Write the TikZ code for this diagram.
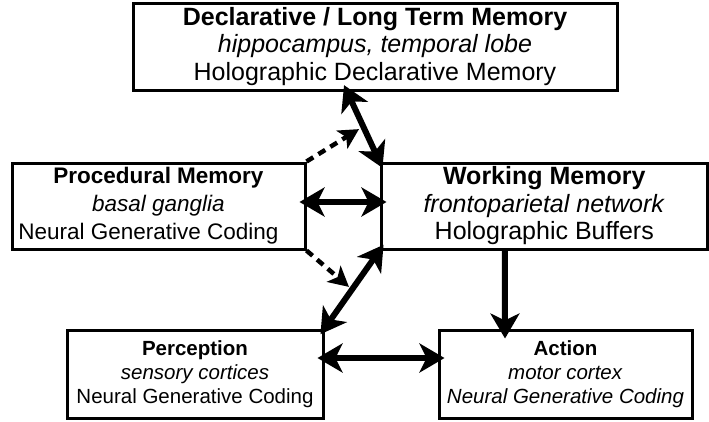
\documentclass[tikz,border=0pt]{standalone}
\usepackage{fontspec}
\setmainfont{Liberation Sans}
\usetikzlibrary{arrows.meta,calc}

\tikzset{
  box/.style={draw,line width=3pt,align=center,inner sep=0pt},
  bigtext/.style={font=\fontsize{25}{27.5}\selectfont},
  midtext/.style={font=\fontsize{22.5}{28}\selectfont},
  smalltext/.style={font=\fontsize{20.5}{24}\selectfont},
  link/.style={line width=6pt,{Stealth[length=25pt,width=29pt,inset=7pt]}-{Stealth[length=25pt,width=29pt,inset=7pt]},shorten <=-7pt,shorten >=-7pt},
  onelink/.style={line width=6pt,-{Stealth[length=25pt,width=29pt,inset=7pt]},shorten >=-10pt},
  hint/.style={line width=4.5pt,dash pattern=on 8pt off 6pt,-{Stealth[length=20pt,width=21pt,inset=5pt]},shorten >=5pt}
}

\begin{document}
\begin{tikzpicture}[x=1pt,y=-1pt]
  \useasboundingbox (0,0) rectangle (709,421);

  % memory modules
  \node[box,bigtext,minimum width=484pt,minimum height=87pt] (dec) at (375,46.5)
    {\textbf{Declarative / Long Term Memory}\\ \textit{hippocampus, temporal lobe}\\ Holographic Declarative Memory};
  \node[box,midtext,minimum width=293pt,minimum height=86pt] (proc) at (158.5,206)
    {\textbf{Procedural Memory}\\ \textit{basal ganglia}\\ Neural Generative Coding\hspace*{20pt}};
  \node[box,bigtext,minimum width=326.5pt,minimum height=86pt] (wm) at (544.25,206)
    {\textbf{Working Memory}\\ \textit{frontoparietal network}\\ Holographic Buffers};
  \node[box,smalltext,minimum width=256pt,minimum height=88pt] (perc) at (195,374)
    {\textbf{Perception}\\ \textit{sensory cortices}\\ Neural Generative Coding};
  \node[box,smalltext,minimum width=253pt,minimum height=88pt] (act) at (565.5,374)
    {\textbf{Action}\\ \textit{motor cortex}\\ \textit{Neural Generative Coding}};

  \coordinate (decin) at ([xshift=-28pt]dec.south);

  % connections
  \draw[link] (decin) -- (wm.north west);
  \draw[link] ([yshift=4pt]proc.east) -- ([yshift=4pt]wm.west);
  \draw[link] (wm.south west) -- (perc.north east);
  \draw[link] ([yshift=16pt]perc.east) -- ([yshift=16pt]act.west);
  \draw[onelink] ([xshift=-39.5pt]wm.south) -- ([xshift=-60.5pt]act.north);

  \draw[hint] (proc.north east) -- ($(decin)!.5!(wm.north west)$);
  \draw[hint,shorten >=4pt] (proc.south east) -- ($(wm.south west)!.5!(perc.north east)$);
\end{tikzpicture}
\end{document}
